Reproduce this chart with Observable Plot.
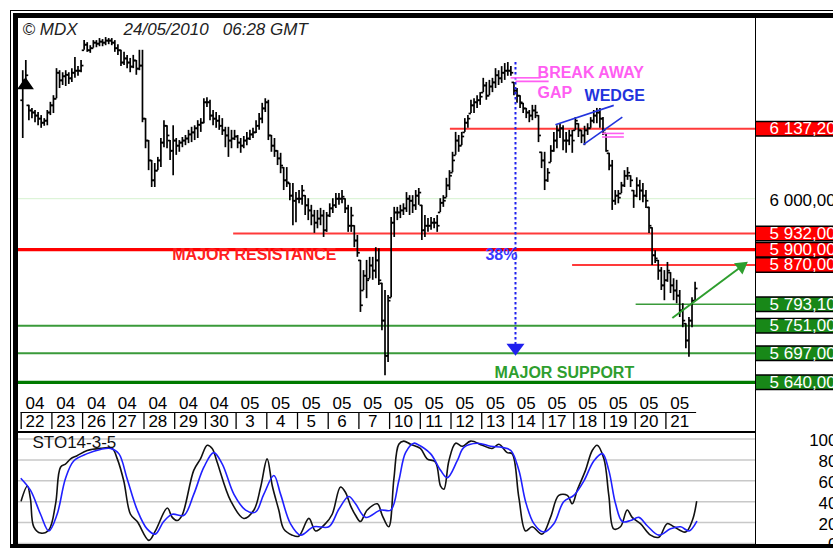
<!DOCTYPE html>
<html>
<head>
<meta charset="utf-8">
<script src="https://cdn.jsdelivr.net/npm/d3@7"></script>
<script src="https://cdn.jsdelivr.net/npm/@observablehq/plot@0.6"></script>
<style>
html,body{margin:0;padding:0;background:#fff;}
#chart{position:relative;width:833px;height:548px;overflow:hidden;background:#fff;}
.bd{position:absolute;background:#000;}
</style>
</head>
<body>
<div id="chart"></div>
<script>
// ---------------- DATA ----------------
const months = ["04","04","04","04","04","04","04","05","05","05","05","05","05","05","05","05","05","05","05","05","05","05"];
const days = [22,23,26,27,28,29,30,3,4,5,6,7,10,11,12,13,14,17,18,19,20,21];
const barsPerDay = 10;

const opens = [
6193,6232,6183,6173,6169,6163,6157,6149,6153,6169,
6183,6196,6247,6232,6240,6243,6236,6247,6251,6251,
6291,6302,6291,6295,6306,6304,6308,6306,6310,6310,
6306,6295,6291,6267,6275,6267,6259,6271,6255,6261,
6157,6114,6075,6036,6055,6075,6110,6143,6114,6094,
6114,6104,6110,6114,6118,6126,6130,6138,6145,6149,
6189,6189,6163,6157,6153,6143,6134,6124,6114,6118,
6122,6110,6104,6114,6118,6126,6130,6143,6157,6177,
6189,6124,6104,6094,6079,6061,6036,6030,6006,5996,
6000,6000,6006,5987,5977,5967,5953,5961,5967,5938,
5967,5981,5987,6000,6000,6000,5981,5947,5947,5918,
5879,5820,5849,5843,5869,5859,5879,5834,5761,5692,
5806,5953,5973,5973,5977,5981,6000,5996,5987,6006,
5987,5938,5947,5947,5953,5953,5973,5992,6002,6026,
6051,6085,6114,6104,6130,6149,6167,6183,6189,6193,
6208,6222,6202,6220,6228,6242,6236,6247,6251,6251,
6228,6212,6202,6187,6177,6169,6163,6173,6163,6091,
6075,6036,6071,6094,6114,6134,6138,6114,6114,6124,
6134,6147,6134,6124,6134,6138,6153,6163,6169,6157,
6128,6089,6065,5996,6006,6010,6026,6045,6045,6016,
6006,6026,6016,6006,5983,5943,5889,5879,5859,5830,
5840,5855,5830,5820,5810,5781,5755,5722,5761,5800];

const highs = [
6251,6271,6183,6177,6173,6169,6163,6157,6173,6189,
6202,6255,6251,6247,6251,6247,6255,6277,6259,6271,
6310,6306,6300,6310,6310,6314,6312,6316,6314,6314,
6310,6302,6291,6287,6281,6275,6281,6271,6291,6291,
6157,6114,6075,6069,6081,6118,6153,6143,6114,6143,
6118,6114,6120,6124,6134,6140,6143,6153,6157,6196,
6198,6193,6173,6169,6163,6157,6140,6140,6134,6134,
6124,6118,6122,6130,6134,6138,6153,6167,6187,6196,
6193,6124,6118,6094,6089,6061,6061,6030,6030,6012,
6016,6026,6006,6000,5987,5977,5977,5981,5977,5973,
5990,6000,6010,6010,6016,6000,5987,5983,5947,5928,
5879,5859,5879,5885,5885,5904,5902,5834,5820,5810,
5963,5983,5983,5987,5990,6012,6006,6006,6016,6020,
5987,5967,5961,5963,5961,5967,6000,6006,6040,6055,
6091,6130,6124,6130,6157,6163,6193,6196,6202,6208,
6236,6228,6232,6236,6255,6251,6259,6265,6267,6259,
6228,6216,6202,6187,6177,6173,6183,6183,6163,6091,
6091,6059,6104,6130,6143,6147,6143,6130,6134,6134,
6159,6147,6134,6142,6147,6159,6173,6177,6177,6159,
6128,6089,6075,6016,6016,6032,6055,6061,6045,6016,
6041,6036,6030,6016,5983,5943,5898,5879,5865,5859,
5875,5855,5843,5840,5820,5794,5755,5767,5806,5836];

const lows = [
6118,6222,6153,6157,6149,6143,6138,6142,6143,6163,
6167,6196,6216,6222,6220,6224,6228,6236,6240,6247,
6291,6287,6285,6295,6296,6298,6298,6300,6302,6300,
6287,6281,6259,6261,6255,6247,6255,6242,6251,6149,
6098,6055,6022,6022,6055,6061,6100,6098,6075,6045,
6085,6091,6100,6104,6108,6110,6114,6118,6130,6147,
6179,6153,6143,6138,6134,6124,6100,6081,6098,6114,
6098,6089,6098,6104,6114,6118,6128,6134,6147,6169,
6114,6091,6081,6065,6049,6016,6022,5996,5947,5953,
5990,5987,5967,5957,5947,5932,5941,5947,5924,5934,
5963,5971,5981,5987,5990,5971,5934,5934,5904,5885,
5777,5820,5804,5843,5840,5843,5830,5741,5653,5679,
5806,5924,5957,5961,5967,5973,5967,5971,5977,5987,
5918,5924,5934,5938,5941,5934,5973,5983,6002,6016,
6051,6085,6091,6104,6130,6138,6167,6167,6177,6183,
6208,6193,6202,6208,6216,6222,6226,6232,6240,6240,
6202,6187,6177,6167,6157,6149,6153,6157,6110,6059,
6016,6032,6071,6091,6098,6118,6094,6089,6104,6089,
6134,6120,6108,6104,6124,6138,6147,6147,6138,6124,
6091,6055,5977,5987,5990,6010,6022,6036,6022,5981,
6002,5996,5992,5981,5932,5869,5873,5840,5820,5800,
5836,5814,5800,5794,5767,5747,5706,5689,5747,5800];

const closes = [
6232,6242,6173,6169,6163,6157,6149,6153,6169,6183,
6196,6247,6232,6240,6243,6236,6247,6251,6251,6261,
6302,6291,6295,6306,6304,6308,6306,6310,6310,6306,
6295,6291,6267,6275,6267,6259,6271,6255,6261,6157,
6114,6075,6036,6055,6075,6110,6143,6124,6094,6114,
6104,6110,6114,6118,6126,6130,6138,6145,6149,6189,
6189,6163,6157,6153,6143,6134,6124,6114,6118,6122,
6110,6104,6114,6118,6126,6130,6143,6157,6177,6189,
6124,6104,6094,6079,6065,6036,6032,6006,5996,6000,
6000,6016,5987,5977,5967,5953,5961,5967,5938,5967,
5981,5987,6000,6000,6004,5981,5947,5967,5918,5894,
5791,5849,5840,5869,5859,5879,5840,5761,5692,5800,
5953,5973,5973,5977,5981,6000,5996,5987,6006,6012,
5938,5947,5947,5953,5953,5947,5992,5996,6026,6045,
6075,6114,6104,6122,6149,6157,6183,6189,6193,6200,
6222,6202,6220,6228,6242,6236,6247,6251,6251,6247,
6212,6202,6189,6177,6169,6163,6173,6169,6124,6075,
6036,6051,6094,6114,6134,6138,6114,6114,6124,6114,
6153,6134,6124,6134,6138,6153,6163,6169,6157,6134,
6094,6065,5996,6006,6002,6026,6045,6051,6036,6006,
6026,6016,6006,5996,5947,5889,5883,5859,5830,5840,
5859,5830,5820,5810,5781,5761,5722,5761,5800,5824];

// Support / resistance levels
const levelValues = [6137.2, 5932, 5900, 5870, 5793.1, 5751, 5697, 5640];
const levelLabels = ["6 137,20","5 932,00","5 900,00","5 870,00","5 793,10","5 751,00","5 697,00","5 640,00"];
const levelKind   = ["R","R","R","R","S","S","S","S"];
const levelFrom   = [139.8, 69.2, null, 179.6, 200.3, null, null, null]; // bar index where line starts
const gridLevel = 6000, gridLabel = "6 000,00";

// Stochastic 14-3-5 (%K black, %D blue), position in bar index units
const kPos = [0,2,3,4.1,6.3,9,11.2,12.8,14.4,16.1,18.2,21.5,25.8,29.6,31.3,33.4,35.6,37.8,41.6,43.7,47.6,49.2,50.8,52.4,56.2,58.4,60.6,62.2,63.8,68.2,72.5,75.8,78,80.1,81.8,83.9,85.5,88.3,90.4,93.7,95.9,99.1,101.3,104,105.6,107.3,108.9,110.5,112.7,116,117.6,119.7,121.4,123,124.6,126.8,130,132.2,134.9,136.6,137.7,139.3,141.5,143.7,146.4,150.2,153.4,155.6,158.3,159.9,162.1,164.3,166.4,169.7,172.4,175.1,177.9,179.5,181.1,183.8,186,187.6,189.8,191.4,193,195.2,197.4,199,201.7,205,207.7,210.4,212.6,216.4,218.6,220];
const kVal = [41,55,43,16,10,13,38,73,76,81,84,89,91,91,81,60,28,21,3,12,34,25,22,27,70,81,94,91,78,41,24,32,54,81,55,32,14,8,7,24,12,19,28,54,49,36,27,21,32,38,27,16,62,95,98,95,91,81,78,55,52,79,96,93,98,94,91,95,87,86,44,12,16,9,25,46,46,38,51,70,89,94,81,46,14,16,32,25,19,8,6,19,16,11,22,40];
const dPos = [0,3,6.3,9,11.7,14.4,17.1,21.5,25.8,29.1,31.8,34.5,37.8,41,43.7,46.4,49.2,53,56.2,59.5,62.7,65.5,69.3,73.1,76.3,79,82.3,84.5,87.7,91,95.3,100.2,103.5,106.7,108.9,112.2,117.1,120.4,123,125.2,127.9,129,133.3,136.6,138.8,142,144.2,148.6,152.9,156.7,159.5,162.1,164.3,167,170.2,173.5,176.7,180,183.3,186.5,189.3,191.4,193.6,195.8,198.5,201.2,203.9,207.7,211.5,214.8,217.5,220];
const dVal = [62,51,28,12,28,62,79,86,90,91,86,62,32,14,9,21,28,27,47,73,87,76,47,32,30,47,65,47,19,8,16,16,33,45,38,25,32,32,60,87,96,95,86,70,63,79,92,96,93,92,89,70,40,19,11,19,40,46,60,79,86,70,38,21,22,25,17,8,14,16,12,21];
const stochTicks = [0,20,40,60,80,100];

// Annotations (bar index, price)
const notes = [
  {label:"MAJOR RESISTANCE", x:49.2, y:5889},
  {label:"MAJOR SUPPORT", x:154.2, y:5658},
  {label:"BREAK AWAY", x:168.2, y:6247},
  {label:"GAP", x:168.2, y:6207},
  {label:"WEDGE", x:183.5, y:6201},
];
const pct = {label:"38%", x:161, y:5890};
const projection = {x:161, from:6267, to:5697};
const wedgeLines = [{x1:174.0,y1:6145,x2:193.0,y2:6183},{x1:183.1,y1:6106,x2:195.8,y2:6160}];
const gapLines = [{x1:159.4,x2:169.2,y:6237},{x1:161,x2:171.8,y:6230},{x1:189.2,x2:196.3,y:6128},{x1:189.2,x2:196.3,y:6121}];
const targetArrow = {x1:212.1,y1:5766,x2:235.9,y2:5873};
const marker = {x:1.4, y:6224};

// ---------------- RENDER ----------------
const FONT = '"Liberation Sans", Arial, Helvetica, sans-serif';
const chart = document.getElementById("chart");
const XD = [-0.88, 239.18];
const YD = [5629.8, 6355.3];
const noteColor = {"MAJOR RESISTANCE":"#ff2020","MAJOR SUPPORT":"#2e9e2e","BREAK AWAY":"#ff5ef2","GAP":"#ff5ef2","WEDGE":"#2233dd"};

function place(svg, left, top){
  svg.style.position = "absolute";
  svg.style.left = left + "px";
  svg.style.top = top + "px";
  svg.style.overflow = "visible";
  svg.style.background = "transparent";
  svg.style.maxWidth = "none";
  chart.appendChild(svg);
}
function box(l,t,w,h){const d=document.createElement("div");d.className="bd";d.style.left=l+"px";d.style.top=t+"px";d.style.width=w+"px";d.style.height=h+"px";chart.appendChild(d);}

const bars = highs.map((h,i)=>({x:i+0.5,o:opens[i],h,l:lows[i],c:closes[i]}));
const levels = levelValues.map((v,k)=>({v,label:levelLabels[k],kind:levelKind[k],from:levelFrom[k]}));
const isMajor = v => v===5900 || v===5640;

const tickL = {draw(ctx){ctx.moveTo(-2.4,0);ctx.lineTo(0,0);}};
const tickR = {draw(ctx){ctx.moveTo(0,0);ctx.lineTo(2.4,0);}};
const downTri = {draw(ctx){ctx.moveTo(-9,-9.5);ctx.lineTo(9,-9.5);ctx.lineTo(0,2.5);ctx.closePath();}};
const upTri = {draw(ctx){ctx.moveTo(0,-6);ctx.lineTo(7,4);ctx.lineTo(-7,4);ctx.closePath();}};
const headTri = {draw(ctx){ctx.moveTo(2.4,-1.8);ctx.lineTo(-3.0,11.0);ctx.lineTo(-11.4,-0.2);ctx.closePath();}};

const main = Plot.plot({
  width:737, height:370, margin:0,
  x:{domain:XD, axis:null}, y:{domain:YD, axis:null},
  color:{type:"identity"},
  style:{fontFamily:FONT, background:"transparent", color:"#000"},
  marks:[
    Plot.ruleY([gridLevel], {y:d=>d, stroke:"#d6f2cf", strokeWidth:1}),
    Plot.ruleY(levels, {y:"v", x1:d=>d.from ?? XD[0], x2:XD[1],
      stroke:d=>d.kind==="R" ? (isMajor(d.v)?"#ff0000":"#ff3a3a") : (isMajor(d.v)?"#007a00":"#3a9a3a"),
      strokeWidth:d=>isMajor(d.v)?3.2:(d.v===5793.1?1.5:2)}),
    Plot.ruleX(bars, {x:"x", y1:"l", y2:"h", stroke:"#000", strokeWidth:1.7}),
    Plot.dot(bars, {x:"x", y:"o", symbol:tickL, stroke:"#000", strokeWidth:1.7, fill:"none"}),
    Plot.dot(bars, {x:"x", y:"c", symbol:tickR, stroke:"#000", strokeWidth:1.7, fill:"none"}),
    Plot.dot([marker], {x:"x", y:"y", symbol:upTri, fill:"#000", stroke:"#000"}),
    // projection
    Plot.ruleX([projection], {x:"x", y1:"from", y2:d=>d.to+12, stroke:"#2020ee", strokeWidth:2, strokeDasharray:"2.5,2.5"}),
    Plot.dot([projection], {x:"x", y:"to", symbol:downTri, fill:"#2020ee", stroke:"none"}),
    Plot.text([pct], {x:"x", y:"y", text:"label", textAnchor:"end", dx:2, fill:"#3a3aff", fontSize:16, fontWeight:"bold", letterSpacing:"0.4px"}),
    // wedge and gaps
    Plot.link(wedgeLines, {x1:"x1", y1:"y1", x2:"x2", y2:"y2", stroke:"#2233dd", strokeWidth:1.6}),
    Plot.link(gapLines, {x1:"x1", x2:"x2", y1:"y", y2:"y", stroke:"#ff5ef2", strokeWidth:1.6}),
    // target arrow
    Plot.link([targetArrow], {x1:"x1", y1:"y1", x2:"x2", y2:"y2", stroke:"#2e9e2e", strokeWidth:2}),
    Plot.dot([targetArrow], {x:"x2", y:"y2", symbol:headTri, fill:"#2e9e2e", stroke:"none"}),
    Plot.text(notes, {x:"x", y:"y", text:"label", textAnchor:"start", fill:d=>noteColor[d.label], fontSize:16, fontWeight:"bold", letterSpacing:"0.4px"}),
    Plot.text(["\u00a9 MDX"], {frameAnchor:"top-left", dx:4, dy:5, fontSize:17, fontStyle:"italic", fill:"#222"}),
    Plot.text(["24/05/2010\u00a0\u00a0 06:28 GMT"], {frameAnchor:"top-left", dx:105, dy:5, fontSize:17, fontStyle:"italic", fill:"#222"})
  ]
});
place(main, 18, 17);

const right = Plot.plot({
  width:78, height:370, margin:0,
  x:{axis:null}, y:{domain:YD, axis:null},
  color:{type:"identity"},
  style:{fontFamily:FONT, background:"transparent"},
  marks:[
    Plot.tickY(levels, {y:"v", stroke:"#000", strokeWidth:16}),
    Plot.tickY(levels, {y:"v", stroke:d=>d.kind==="R"?"#ff0000":"#188818", strokeWidth:13}),
    Plot.text(levels, {y:"v", text:"label", frameAnchor:"left", textAnchor:"start", dx:14, fill:"#fff", fontSize:17}),
    Plot.text([gridLevel], {y:d=>d, text:()=>gridLabel, frameAnchor:"left", textAnchor:"start", dx:14, dy:2, fill:"#000", fontSize:17})
  ]
});
place(right, 755, 17);

// date axis: row 0 = month, row 1 = day
const dateRows = days.map((d,k)=>({k, m:months[k], d:String(d)}));
const nBars = days.length*barsPerDay;
const dates = Plot.plot({
  width:737, height:45, margin:0,
  x:{domain:XD, axis:null},
  y:{domain:[0,2], range:[8,42], axis:null},
  style:{fontFamily:FONT, background:"transparent"},
  marks:[
    Plot.ruleY([1], {y:d=>d, x1:0, x2:nBars, stroke:"#000", strokeWidth:1.2}),
    Plot.ruleX(dateRows, {x:r=>r.k*barsPerDay, y1:1, y2:2, stroke:"#000", strokeWidth:1.3}),
    Plot.text(dateRows, {x:r=>r.k*barsPerDay+barsPerDay/2, y:0.5, text:"m", fontSize:17, dx:-1.5, fill:"#000"}),
    Plot.text(dateRows, {x:r=>r.k*barsPerDay+barsPerDay/2, y:1.5, text:"d", fontSize:17, dx:-1.5, dy:1, fill:"#000"})
  ]
});
place(dates, 18, 387);

const kData = kPos.map((x,i)=>({x, v:kVal[i]}));
const dData = dPos.map((x,i)=>({x, v:dVal[i]}));
const stoch = Plot.plot({
  width:737, height:110, margin:0,
  x:{domain:XD, axis:null},
  y:{domain:[0,100], range:[110,5.5], axis:null},
  style:{fontFamily:FONT, background:"transparent"},
  marks:[
    Plot.ruleY(stochTicks, {stroke:"#c8c8c8", strokeWidth:1.5}),
    Plot.line(kData, {x:"x", y:"v", stroke:"#111", strokeWidth:1.6, curve:"catmull-rom"}),
    Plot.line(dData, {x:"x", y:"v", stroke:"#2020ff", strokeWidth:1.6, curve:"catmull-rom"}),
    Plot.text(["STO14-3-5"], {frameAnchor:"top-left", dx:14, dy:2, fontSize:17, fill:"#111"})
  ]
});
place(stoch, 18, 433);

const stochRight = Plot.plot({
  width:82, height:110, margin:0,
  x:{axis:null}, y:{domain:[0,100], range:[110,5.5], axis:null},
  style:{fontFamily:FONT, background:"transparent"},
  marks:[
    Plot.text(stochTicks, {y:d=>d, text:d=>String(d), frameAnchor:"right", textAnchor:"end", dy:1.5, fontSize:17, fill:"#000"})
  ]
});
place(stochRight, 755, 433);

// frame
box(10,10,823,1);
box(13,13,820,4.5);
box(10,10,1,538);
box(13,13,4.5,535);
box(754.5,17,1.6,528);
box(17,431,738,2);
box(10,543.5,823,5);
</script>
</body>
</html>
